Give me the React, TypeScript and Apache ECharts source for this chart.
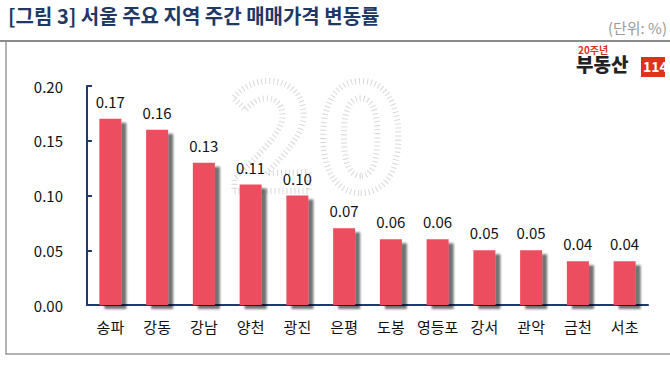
import React, { useEffect, useRef } from "react";
import * as echarts from "echarts";

const categories = ["송파", "강동", "강남", "양천", "광진", "은평", "도봉", "영등포", "강서", "관악", "금천", "서초"];
const values = [0.17, 0.16, 0.13, 0.11, 0.1, 0.07, 0.06, 0.06, 0.05, 0.05, 0.04, 0.04];
const titleText = "[그림 3] 서울 주요 지역 주간 매매가격 변동률";
const unitText = "(단위: %)";

const FONT = "'Noto Sans CJK KR', 'Noto Sans', sans-serif";
const NAVY = "#1F3A6E";

export default function App() {
  const ref = useRef<HTMLDivElement>(null);
  useEffect(() => {
    document.body.style.margin = "0";
    const chart = echarts.init(ref.current!, null, { renderer: "svg" });
    chart.setOption({
      animation: false,
      backgroundColor: "#ffffff",
      textStyle: { fontFamily: FONT },
      grid: { left: 87, right: 22, top: 86, bottom: 70 },
      xAxis: {
        type: "category",
        data: categories,
        axisLine: { lineStyle: { color: NAVY, width: 2 } },
        axisTick: { inside: true, length: 5, lineStyle: { color: NAVY, width: 2 } },
        axisLabel: { color: "#111", fontSize: 15, fontFamily: FONT, margin: 14, interval: 0 },
      },
      yAxis: {
        type: "value",
        min: 0,
        max: 0.2,
        interval: 0.05,
        axisLine: { show: true, lineStyle: { color: NAVY, width: 2 } },
        axisTick: { show: true, inside: true, length: 5, lineStyle: { color: NAVY, width: 2 } },
        splitLine: { show: false },
        axisLabel: {
          color: "#111",
          fontSize: 15,
          fontFamily: FONT,
          margin: 24,
          formatter: (v: number) => v.toFixed(2),
        },
      },
      graphic: [
        {
          type: "text",
          left: 8,
          top: 5,
          style: { text: titleText, fill: "#1F3864", font: `bold 20px ${FONT}` },
        },
        {
          type: "text",
          right: 3,
          top: 20,
          style: { text: unitText, fill: "#9a9a9a", font: `15px ${FONT}` },
        },
        {
          type: "line",
          shape: { x1: 0, y1: 41, x2: 670, y2: 41 },
          style: { stroke: "#8a8a8a", lineWidth: 2 },
        },
        {
          type: "line",
          shape: { x1: 6, y1: 42, x2: 6, y2: 355 },
          style: { stroke: "#9a9a9a", lineWidth: 1.5 },
        },
        {
          type: "line",
          shape: { x1: 6, y1: 354, x2: 670, y2: 354 },
          style: { stroke: "#9a9a9a", lineWidth: 1.5 },
        },
        {
          type: "text",
          x: 228,
          y: 50,
          z: -10,
          silent: true,
          style: {
            text: "20",
            fill: "rgba(0,0,0,0)",
            stroke: "rgba(0,0,0,0.16)",
            lineWidth: 6,
            lineDash: [1, 3],
            font: `bold 150px ${FONT}`,
          },
        },
        {
          type: "text",
          x: 578,
          y: 44,
          style: { text: "20주년", fill: "#E0301E", font: `bold 10px ${FONT}` },
        },
        {
          type: "text",
          x: 576,
          y: 54,
          style: { text: "부동산", fill: "#222", font: `900 19px ${FONT}` },
        },
        {
          type: "rect",
          shape: { x: 641, y: 57, width: 24, height: 20 },
          style: { fill: "#E0301E" },
        },
        {
          type: "text",
          x: 643,
          y: 59,
          style: { text: "114", fill: "#fff", font: `bold 14px ${FONT}` },
        },
      ],
      series: [
        {
          type: "bar",
          data: values,
          barWidth: 22,
          itemStyle: {
            color: "#EC4D5E",
            shadowColor: "rgba(0,0,0,0.55)",
            shadowBlur: 2,
            shadowOffsetX: 5,
            shadowOffsetY: 4,
          },
          label: {
            show: true,
            position: "top",
            distance: 10,
            color: "#111",
            fontSize: 15,
            fontFamily: FONT,
            formatter: (p: any) => p.value.toFixed(2),
          },
        },
      ],
    });
    return () => chart.dispose();
  }, []);
  return <div ref={ref} style={{ width: 670, height: 375 }} />;
}
